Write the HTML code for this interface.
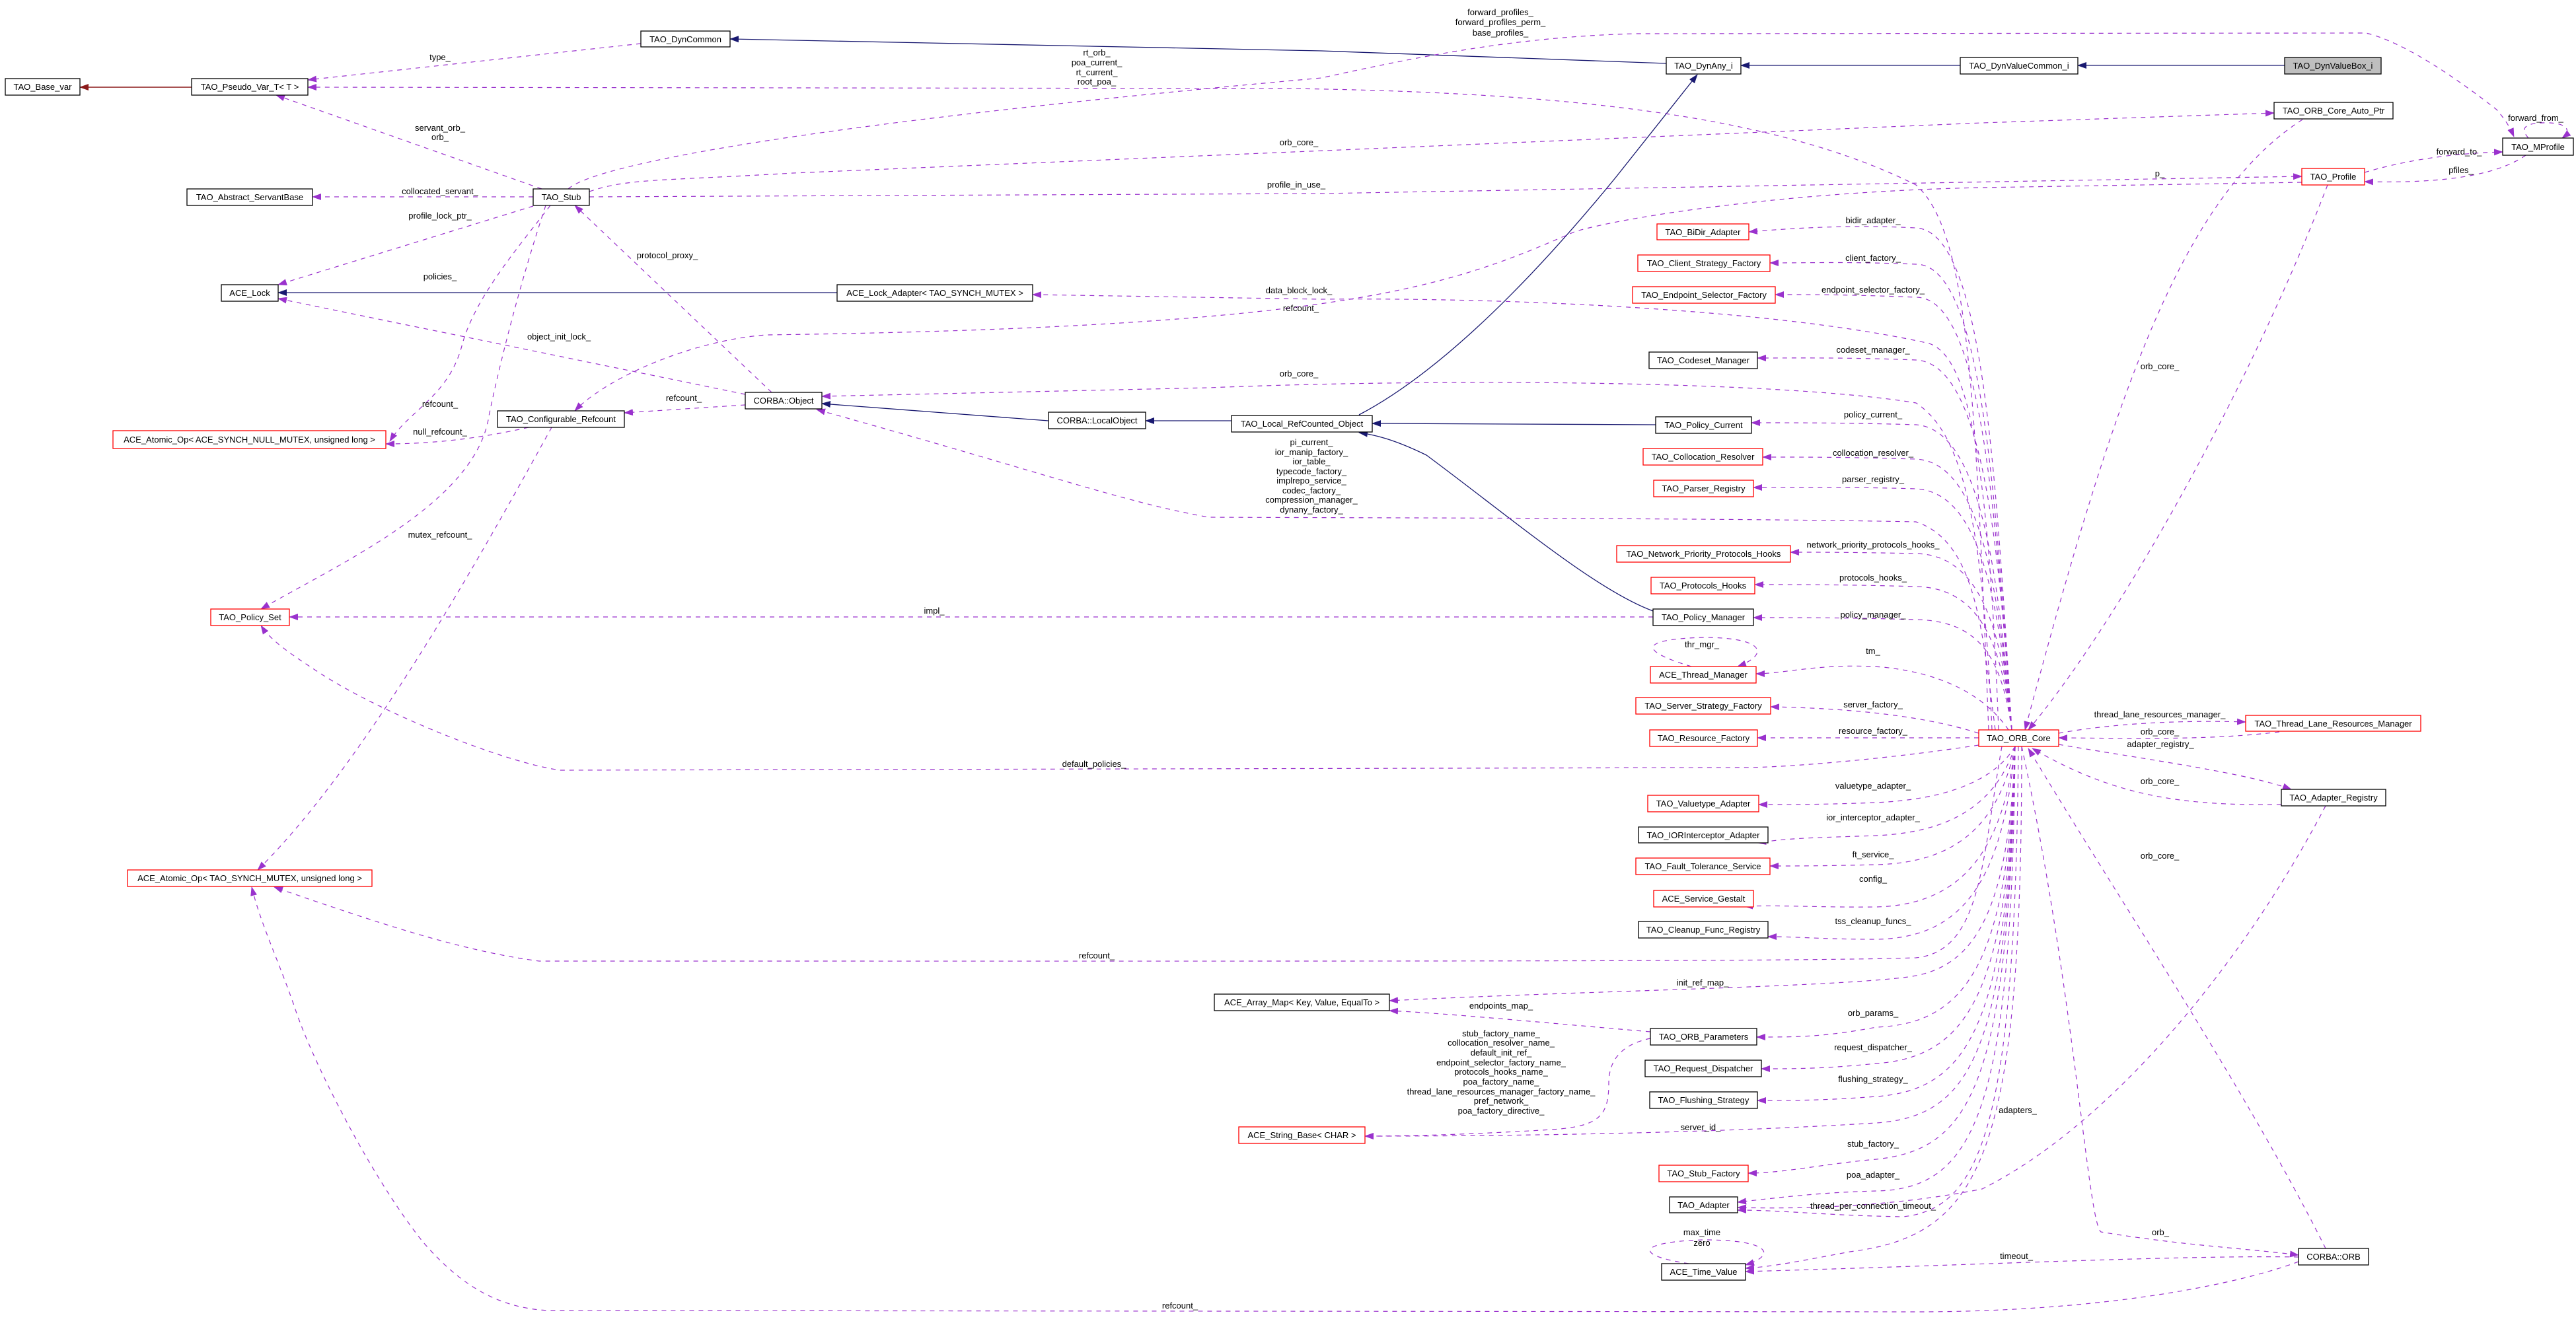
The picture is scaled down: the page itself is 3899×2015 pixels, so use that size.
<!DOCTYPE html>
<html><head><meta charset="utf-8"><style>
html,body{margin:0;padding:0;background:#fff;}
svg{display:block;}
text{font-family:"Liberation Sans",Arial,sans-serif;font-size:13px;fill:#000;}
.n{fill:#fff;stroke:#000;stroke-width:1.3;}
.r{fill:#fff;stroke:#ff0000;stroke-width:1.3;}
.d{fill:none;stroke:#9a32cd;stroke-width:1.2;stroke-dasharray:7,7;}
.s{fill:none;stroke:#191970;stroke-width:1.3;}
.f{fill:none;stroke:#8b1a1a;stroke-width:1.5;}
</style></head><body>
<svg width="3899" height="2015" viewBox="0 0 3899 2015" xmlns="http://www.w3.org/2000/svg">
<defs>
<marker id="ap" markerWidth="14" markerHeight="10" refX="13" refY="5" orient="auto" markerUnits="userSpaceOnUse"><path d="M0,0 L14,5 L0,10 z" fill="#9a32cd"/></marker>
<marker id="an" markerWidth="14" markerHeight="10" refX="13" refY="5" orient="auto" markerUnits="userSpaceOnUse"><path d="M0,0 L14,5 L0,10 z" fill="#191970"/></marker>
<marker id="af" markerWidth="14" markerHeight="10" refX="13" refY="5" orient="auto" markerUnits="userSpaceOnUse"><path d="M0,0 L14,5 L0,10 z" fill="#8b1a1a"/></marker>
</defs>

<!-- solid edges -->
<path class="f" d="M290,132 L121,132" marker-end="url(#af)"/>
<path class="s" d="M1267,443 L421,443" marker-end="url(#an)"/>
<path class="s" d="M2522,96 L2000,77 L1105,59" marker-end="url(#an)"/>
<path class="s" d="M2967,99 L2635,99" marker-end="url(#an)"/>
<path class="s" d="M3458,99 L3145,99" marker-end="url(#an)"/>
<path class="s" d="M2057,628 C2160,574 2290,459 2446,268 C2500,200 2540,150 2569,113" marker-end="url(#an)"/>
<path class="s" d="M1587,637 L1244,611" marker-end="url(#an)"/>
<path class="s" d="M1864,637 L1734,637" marker-end="url(#an)"/>
<path class="s" d="M2506,643 L2077,641" marker-end="url(#an)"/>
<path class="s" d="M2502,925 C2415,893 2287,784 2159,689 C2110,665 2080,658 2057,655" marker-end="url(#an)"/>

<!-- dashed edges left part -->
<path class="d" d="M970,66 L466,121" marker-end="url(#ap)"/>
<path class="d" d="M3010,1105 C2990,600 2980,350 2900,280 C2700,180 2400,140 1950,134 L466,132" marker-end="url(#ap)"/>
<path class="d" d="M820,286 L418,144" marker-end="url(#ap)"/>
<path class="d" d="M807,298 L473,298" marker-end="url(#ap)"/>
<path class="d" d="M807,312 L421,431" marker-end="url(#ap)"/>
<path class="d" d="M1128,597 L421,452" marker-end="url(#ap)"/>
<path class="d" d="M1168,594 L870,311" marker-end="url(#ap)"/>
<path class="d" d="M833,311 C780,380 720,450 700,520 C680,600 620,620 590,668" marker-end="url(#ap)"/>
<path class="d" d="M826,311 C780,450 750,580 740,630 C720,760 520,850 395,922" marker-end="url(#ap)"/>
<path class="d" d="M800,647 C720,665 650,672 584,672" marker-end="url(#ap)"/>
<path class="d" d="M835,647 C750,800 560,1150 390,1317" marker-end="url(#ap)"/>
<path class="d" d="M1128,613 L945,625" marker-end="url(#ap)"/>
<path class="d" d="M3484,276 L3000,284 C2700,290 2450,330 2383,351 C2200,430 2050,495 1160,507 C1050,515 920,570 870,622" marker-end="url(#ap)"/>
<path class="d" d="M892,290 C950,270 1000,274 1200,262 L3000,186 L3442,171" marker-end="url(#ap)"/>
<path class="d" d="M892,298 L2000,293 L3484,267" marker-end="url(#ap)"/>
<path class="d" d="M860,286 C900,250 1200,190 2000,118 C2150,85 2300,55 2478,51 L3581,50 C3640,64 3720,120 3779,166 C3795,185 3800,195 3805,207" marker-end="url(#ap)"/>
<path class="d" d="M3020,1105 C3000,950 2990,820 2900,790 C2600,784 2000,784 1829,783 C1700,760 1574,714 1236,620" marker-end="url(#ap)"/>
<path class="d" d="M3015,1105 C3000,750 2960,650 2900,610 C2700,577 2200,572 1829,587 L1244,600" marker-end="url(#ap)"/>
<path class="d" d="M3025,1105 C3010,700 2980,540 2920,520 C2700,470 2300,450 2000,453 L1563,446" marker-end="url(#ap)"/>
<path class="d" d="M2995,1128 C2850,1150 2700,1162 2638,1162 L848,1166 C765,1155 574,1079 478,1015 C440,990 410,970 395,947" marker-end="url(#ap)"/>
<path class="d" d="M3030,1130 C3000,1300 3000,1440 2900,1450 C2700,1456 2100,1455 816,1455 C700,1440 574,1398 415,1343" marker-end="url(#ap)"/>
<path class="d" d="M3479,1910 C3400,1940 3200,1986 2899,1986 L829,1984 C760,1980 702,1952 640,1880 C560,1780 470,1600 446,1525 C420,1450 395,1400 381,1343" marker-end="url(#ap)"/>

<!-- ORB_Core fan -->
<g>
<path class="d" d="M3045,1105 C3020,700 3000,350 2900,345 C2800,340 2720,345 2647,351" marker-end="url(#ap)"/>
<path class="d" d="M3045,1105 C3020,750 3000,400 2900,400 C2800,396 2740,398 2679,398" marker-end="url(#ap)"/>
<path class="d" d="M3045,1105 C3020,780 3000,450 2900,450 C2800,446 2750,446 2687,446" marker-end="url(#ap)"/>
<path class="d" d="M3045,1105 C3025,820 3000,550 2900,545 C2800,541 2720,542 2660,542" marker-end="url(#ap)"/>
<path class="d" d="M3045,1105 C3025,880 3000,650 2900,643 C2800,640 2720,640 2651,640" marker-end="url(#ap)"/>
<path class="d" d="M3045,1105 C3025,900 3000,700 2900,695 C2800,692 2740,692 2668,692" marker-end="url(#ap)"/>
<path class="d" d="M3045,1105 C3025,920 3000,745 2900,740 C2800,737 2720,738 2654,738" marker-end="url(#ap)"/>
<path class="d" d="M3045,1105 C3030,960 3000,840 2900,838 C2800,836 2760,836 2710,836" marker-end="url(#ap)"/>
<path class="d" d="M3045,1105 C3030,980 3000,890 2900,888 C2800,885 2720,885 2656,885" marker-end="url(#ap)"/>
<path class="d" d="M3045,1105 C3030,1000 3000,940 2900,938 C2800,935 2720,935 2654,935" marker-end="url(#ap)"/>
<path class="d" d="M3040,1105 C3010,1060 2950,1020 2850,1010 C2760,1003 2700,1020 2658,1020" marker-end="url(#ap)"/>
<path class="d" d="M2995,1110 C2900,1080 2780,1072 2680,1070" marker-end="url(#ap)"/>
<path class="d" d="M2995,1117 L2660,1117" marker-end="url(#ap)"/>
<path class="d" d="M3050,1130 C3020,1180 2950,1210 2840,1215 C2760,1218 2720,1218 2662,1218" marker-end="url(#ap)"/>
<path class="d" d="M3050,1130 C3020,1220 2950,1260 2840,1265 C2760,1268 2710,1268 2660,1276" marker-end="url(#ap)"/>
<path class="d" d="M3050,1130 C3025,1250 2960,1306 2840,1309 C2760,1311 2720,1311 2679,1311" marker-end="url(#ap)"/>
<path class="d" d="M3050,1130 C3030,1300 2960,1370 2840,1373 C2760,1374 2700,1370 2640,1372" marker-end="url(#ap)"/>
<path class="d" d="M3050,1130 C3030,1350 2960,1420 2840,1422 C2760,1422 2720,1418 2676,1418" marker-end="url(#ap)"/>
<path class="d" d="M3050,1130 C3040,1400 2980,1470 2880,1480 C2750,1495 2400,1500 2103,1515" marker-end="url(#ap)"/>
<path class="d" d="M3050,1130 C3040,1450 2980,1550 2840,1555 C2760,1570 2720,1570 2659,1570" marker-end="url(#ap)"/>
<path class="d" d="M3050,1130 C3040,1500 2980,1600 2840,1610 C2760,1618 2720,1618 2666,1618" marker-end="url(#ap)"/>
<path class="d" d="M3050,1130 C3040,1550 2980,1650 2840,1660 C2760,1666 2720,1666 2660,1666" marker-end="url(#ap)"/>
<path class="d" d="M3050,1130 C3040,1600 2980,1690 2840,1700 C2600,1715 2300,1720 2066,1720" marker-end="url(#ap)"/>
<path class="d" d="M3050,1130 C3040,1650 2980,1740 2840,1755 C2760,1762 2700,1776 2646,1776" marker-end="url(#ap)"/>
<path class="d" d="M3050,1130 C3045,1680 2990,1800 2840,1803 C2760,1805 2700,1812 2630,1820" marker-end="url(#ap)"/>
<path class="d" d="M3055,1130 C3050,1700 3000,1830 2880,1842 C2760,1840 2700,1832 2630,1832" marker-end="url(#ap)"/>
<path class="d" d="M3060,1130 C3060,1750 3000,1870 2800,1895 C2720,1910 2680,1918 2642,1920" marker-end="url(#ap)"/>
<path class="d" d="M3479,1903 C3300,1900 3000,1915 2642,1925" marker-end="url(#ap)"/>
<path class="d" d="M3060,1130 C3140,1500 3160,1850 3180,1865 C3300,1885 3400,1890 3479,1900" marker-end="url(#ap)"/>
<path class="d" d="M3520,1890 C3400,1650 3200,1350 3070,1133" marker-end="url(#ap)"/>
<path class="d" d="M3520,1220 C3400,1450 3200,1700 3000,1800 C2850,1830 2700,1830 2630,1828" marker-end="url(#ap)"/>
<path class="d" d="M3116,1110 C3200,1095 3300,1090 3399,1093" marker-end="url(#ap)"/>
<path class="d" d="M3450,1108 C3350,1120 3250,1118 3116,1117" marker-end="url(#ap)"/>
<path class="d" d="M3116,1127 C3250,1150 3400,1170 3468,1195" marker-end="url(#ap)"/>
<path class="d" d="M3453,1218 C3300,1220 3200,1205 3076,1133" marker-end="url(#ap)"/>
<path class="d" d="M3485,181 C3300,300 3200,600 3065,1105" marker-end="url(#ap)"/>
<path class="d" d="M3523,280 C3400,600 3200,950 3070,1105" marker-end="url(#ap)"/>
</g>

<!-- self loops etc -->
<path class="d" d="M2560,1009 C2480,985 2480,968 2578,965 C2670,965 2680,990 2630,1009" marker-end="url(#ap)"/>
<path class="d" d="M2556,1913 C2470,1900 2480,1880 2578,1877 C2680,1877 2690,1900 2642,1915" marker-end="url(#ap)"/>
<path class="d" d="M3827,209 C3810,190 3830,185 3860,186 C3890,188 3890,200 3878,209" marker-end="url(#ap)"/>
<path class="d" d="M3579,261 C3650,240 3720,232 3788,230" marker-end="url(#ap)"/>
<path class="d" d="M3823,235 C3780,265 3700,278 3579,275" marker-end="url(#ap)"/>
<path class="d" d="M2498,1562 C2300,1545 2200,1535 2103,1530" marker-end="url(#ap)"/>
<path class="d" d="M2498,1572 C2460,1580 2435,1600 2435,1640 C2435,1690 2420,1705 2350,1710 C2250,1716 2150,1720 2066,1720" marker-end="url(#ap)"/>
<path class="d" d="M2502,934 L438,934" marker-end="url(#ap)"/>

<!-- nodes -->
<g>
<rect class="n" x="8" y="119" width="113" height="25"/><text x="64.5" y="136" text-anchor="middle">TAO_Base_var</text>
<rect class="n" x="290" y="119" width="176" height="25"/><text x="378" y="136" text-anchor="middle">TAO_Pseudo_Var_T&lt; T &gt;</text>
<rect class="n" x="283" y="286" width="190" height="25"/><text x="378" y="303" text-anchor="middle">TAO_Abstract_ServantBase</text>
<rect class="n" x="807" y="286" width="85" height="25"/><text x="849.5" y="303" text-anchor="middle">TAO_Stub</text>
<rect class="n" x="335" y="431" width="86" height="25"/><text x="378" y="448" text-anchor="middle">ACE_Lock</text>
<rect class="r" x="171" y="652" width="413" height="27"/><text x="377.5" y="670" text-anchor="middle">ACE_Atomic_Op&lt; ACE_SYNCH_NULL_MUTEX, unsigned long &gt;</text>
<rect class="n" x="753" y="622" width="192" height="25"/><text x="849" y="639" text-anchor="middle">TAO_Configurable_Refcount</text>
<rect class="r" x="319" y="922" width="119" height="25"/><text x="378.5" y="939" text-anchor="middle">TAO_Policy_Set</text>
<rect class="r" x="193" y="1317" width="370" height="25"/><text x="378" y="1334" text-anchor="middle">ACE_Atomic_Op&lt; TAO_SYNCH_MUTEX, unsigned long &gt;</text>
<rect class="n" x="970" y="47" width="135" height="24"/><text x="1037.5" y="64" text-anchor="middle">TAO_DynCommon</text>
<rect class="n" x="1267" y="431" width="296" height="25"/><text x="1415" y="448" text-anchor="middle">ACE_Lock_Adapter&lt; TAO_SYNCH_MUTEX &gt;</text>
<rect class="n" x="1128" y="594" width="116" height="25"/><text x="1186" y="611" text-anchor="middle">CORBA::Object</text>
<rect class="n" x="1587" y="624" width="147" height="25"/><text x="1660.5" y="641" text-anchor="middle">CORBA::LocalObject</text>
<rect class="n" x="1864" y="629" width="213" height="25"/><text x="1970.5" y="646" text-anchor="middle">TAO_Local_RefCounted_Object</text>
<rect class="n" x="1838" y="1505" width="265" height="25"/><text x="1970.5" y="1522" text-anchor="middle">ACE_Array_Map&lt; Key, Value, EqualTo &gt;</text>
<rect class="r" x="1875" y="1706" width="191" height="25"/><text x="1970.5" y="1723" text-anchor="middle">ACE_String_Base&lt; CHAR &gt;</text>
<rect class="n" x="2522" y="87" width="113" height="25"/><text x="2578.5" y="104" text-anchor="middle">TAO_DynAny_i</text>
<rect class="r" x="2508" y="339" width="139" height="24"/><text x="2577.5" y="356" text-anchor="middle">TAO_BiDir_Adapter</text>
<rect class="r" x="2479" y="386" width="200" height="25"/><text x="2579" y="403" text-anchor="middle">TAO_Client_Strategy_Factory</text>
<rect class="r" x="2471" y="434" width="216" height="25"/><text x="2579" y="451" text-anchor="middle">TAO_Endpoint_Selector_Factory</text>
<rect class="n" x="2496" y="533" width="164" height="25"/><text x="2578" y="550" text-anchor="middle">TAO_Codeset_Manager</text>
<rect class="n" x="2506" y="631" width="145" height="25"/><text x="2578.5" y="648" text-anchor="middle">TAO_Policy_Current</text>
<rect class="r" x="2487" y="679" width="181" height="25"/><text x="2577.5" y="696" text-anchor="middle">TAO_Collocation_Resolver</text>
<rect class="r" x="2503" y="727" width="151" height="25"/><text x="2578.5" y="744" text-anchor="middle">TAO_Parser_Registry</text>
<rect class="r" x="2447" y="826" width="263" height="25"/><text x="2578.5" y="843" text-anchor="middle">TAO_Network_Priority_Protocols_Hooks</text>
<rect class="r" x="2499" y="874" width="157" height="25"/><text x="2577.5" y="891" text-anchor="middle">TAO_Protocols_Hooks</text>
<rect class="n" x="2502" y="922" width="152" height="25"/><text x="2578" y="939" text-anchor="middle">TAO_Policy_Manager</text>
<rect class="r" x="2498" y="1009" width="160" height="25"/><text x="2578" y="1026" text-anchor="middle">ACE_Thread_Manager</text>
<rect class="r" x="2476" y="1056" width="204" height="25"/><text x="2578" y="1073" text-anchor="middle">TAO_Server_Strategy_Factory</text>
<rect class="r" x="2497" y="1105" width="163" height="25"/><text x="2578.5" y="1122" text-anchor="middle">TAO_Resource_Factory</text>
<rect class="r" x="2494" y="1204" width="168" height="25"/><text x="2578" y="1221" text-anchor="middle">TAO_Valuetype_Adapter</text>
<rect class="n" x="2480" y="1252" width="196" height="24"/><text x="2578" y="1269" text-anchor="middle">TAO_IORInterceptor_Adapter</text>
<rect class="r" x="2476" y="1299" width="203" height="25"/><text x="2577.5" y="1316" text-anchor="middle">TAO_Fault_Tolerance_Service</text>
<rect class="r" x="2503" y="1348" width="151" height="25"/><text x="2578.5" y="1365" text-anchor="middle">ACE_Service_Gestalt</text>
<rect class="n" x="2480" y="1395" width="196" height="25"/><text x="2578" y="1412" text-anchor="middle">TAO_Cleanup_Func_Registry</text>
<rect class="n" x="2498" y="1557" width="161" height="25"/><text x="2578.5" y="1574" text-anchor="middle">TAO_ORB_Parameters</text>
<rect class="n" x="2490" y="1605" width="176" height="25"/><text x="2578" y="1622" text-anchor="middle">TAO_Request_Dispatcher</text>
<rect class="n" x="2497" y="1653" width="163" height="25"/><text x="2578.5" y="1670" text-anchor="middle">TAO_Flushing_Strategy</text>
<rect class="r" x="2511" y="1764" width="135" height="25"/><text x="2578.5" y="1781" text-anchor="middle">TAO_Stub_Factory</text>
<rect class="n" x="2527" y="1812" width="103" height="24"/><text x="2578.5" y="1829" text-anchor="middle">TAO_Adapter</text>
<rect class="n" x="2515" y="1913" width="127" height="25"/><text x="2578.5" y="1930" text-anchor="middle">ACE_Time_Value</text>
<rect class="r" x="2995" y="1105" width="121" height="25"/><text x="3055.5" y="1122" text-anchor="middle">TAO_ORB_Core</text>
<rect class="r" x="3399" y="1083" width="265" height="24"/><text x="3531.5" y="1100" text-anchor="middle">TAO_Thread_Lane_Resources_Manager</text>
<rect class="n" x="3453" y="1195" width="158" height="25"/><text x="3532" y="1212" text-anchor="middle">TAO_Adapter_Registry</text>
<rect class="n" x="3479" y="1890" width="106" height="25"/><text x="3532" y="1907" text-anchor="middle">CORBA::ORB</text>
<rect class="n" x="2967" y="87" width="178" height="25"/><text x="3056" y="104" text-anchor="middle">TAO_DynValueCommon_i</text>
<rect x="3458" y="87" width="146" height="25" fill="#bfbfbf" stroke="#000" stroke-width="1.3"/><text x="3531" y="104" text-anchor="middle">TAO_DynValueBox_i</text>
<rect class="n" x="3442" y="155" width="180" height="25"/><text x="3532" y="172" text-anchor="middle">TAO_ORB_Core_Auto_Ptr</text>
<rect class="n" x="3788" y="209" width="107" height="26"/><text x="3841.5" y="227" text-anchor="middle">TAO_MProfile</text>
<rect class="r" x="3484" y="255" width="95" height="25"/><text x="3531.5" y="272" text-anchor="middle">TAO_Profile</text>
</g>

<!-- edge labels -->
<g text-anchor="middle">
<text x="666" y="91">type_</text>
<text x="666" y="198">servant_orb_</text><text x="666" y="212">orb_</text>
<text x="666" y="294">collocated_servant_</text>
<text x="666" y="331">profile_lock_ptr_</text>
<text x="666" y="423">policies_</text>
<text x="846" y="514">object_init_lock_</text>
<text x="1010" y="391">protocol_proxy_</text>
<text x="666" y="616">refcount_</text>
<text x="666" y="658">null_refcount_</text>
<text x="666" y="814">mutex_refcount_</text>
<text x="1035" y="607">refcount_</text>
<text x="1660" y="84">rt_orb_</text><text x="1660" y="99">poa_current_</text><text x="1660" y="114">rt_current_</text><text x="1660" y="128">root_poa_</text>
<text x="2271" y="23">forward_profiles_</text><text x="2271" y="38">forward_profiles_perm_</text><text x="2271" y="54">base_profiles_</text>
<text x="1966" y="220">orb_core_</text>
<text x="1962" y="284">profile_in_use_</text>
<text x="1966" y="444">data_block_lock_</text>
<text x="1969" y="471">refcount_</text>
<text x="1966" y="570">orb_core_</text>
<text x="1985" y="674">pi_current_</text><text x="1985" y="689">ior_manip_factory_</text><text x="1985" y="703">ior_table_</text><text x="1985" y="718">typecode_factory_</text><text x="1985" y="732">implrepo_service_</text><text x="1985" y="747">codec_factory_</text><text x="1985" y="761">compression_manager_</text><text x="1985" y="776">dynany_factory_</text>
<text x="1414" y="929">impl_</text>
<text x="1656" y="1161">default_policies_</text>
<text x="1660" y="1451">refcount_</text>
<text x="1786" y="1981">refcount_</text>
<text x="3269" y="267">p_</text>
<text x="3269" y="559">orb_core_</text>
<text x="3838" y="183">forward_from_</text>
<text x="3722" y="234">forward_to_</text>
<text x="3725" y="262">pfiles_</text>
<text x="2835" y="338">bidir_adapter_</text>
<text x="2835" y="395">client_factory_</text>
<text x="2835" y="443">endpoint_selector_factory_</text>
<text x="2835" y="534">codeset_manager_</text>
<text x="2835" y="632">policy_current_</text>
<text x="2835" y="690">collocation_resolver_</text>
<text x="2835" y="730">parser_registry_</text>
<text x="2835" y="829">network_priority_protocols_hooks_</text>
<text x="2835" y="879">protocols_hooks_</text>
<text x="2835" y="935">policy_manager_</text>
<text x="2835" y="990">tm_</text>
<text x="2576" y="980">thr_mgr_</text>
<text x="2835" y="1071">server_factory_</text>
<text x="2835" y="1111">resource_factory_</text>
<text x="2835" y="1194">valuetype_adapter_</text>
<text x="2835" y="1242">ior_interceptor_adapter_</text>
<text x="2835" y="1298">ft_service_</text>
<text x="2835" y="1335">config_</text>
<text x="2835" y="1399">tss_cleanup_funcs_</text>
<text x="2577" y="1492">init_ref_map_</text>
<text x="2272" y="1527">endpoints_map_</text>
<text x="2272" y="1569">stub_factory_name_</text><text x="2272" y="1583">collocation_resolver_name_</text><text x="2272" y="1598">default_init_ref_</text><text x="2272" y="1613">endpoint_selector_factory_name_</text><text x="2272" y="1627">protocols_hooks_name_</text><text x="2272" y="1642">poa_factory_name_</text><text x="2272" y="1657">thread_lane_resources_manager_factory_name_</text><text x="2272" y="1671">pref_network_</text><text x="2272" y="1686">poa_factory_directive_</text>
<text x="2835" y="1538">orb_params_</text>
<text x="2835" y="1590">request_dispatcher_</text>
<text x="2835" y="1638">flushing_strategy_</text>
<text x="2574" y="1711">server_id_</text>
<text x="2835" y="1736">stub_factory_</text>
<text x="2835" y="1783">poa_adapter_</text>
<text x="2835" y="1830">thread_per_connection_timeout_</text>
<text x="2576" y="1870">max_time</text><text x="2576" y="1886">zero</text>
<text x="3269" y="1086">thread_lane_resources_manager_</text>
<text x="3269" y="1112">orb_core_</text>
<text x="3270" y="1131">adapter_registry_</text>
<text x="3269" y="1187">orb_core_</text>
<text x="3269" y="1300">orb_core_</text>
<text x="3054" y="1685">adapters_</text>
<text x="3270" y="1870">orb_</text>
<text x="3052" y="1906">timeout_</text>
</g>
</svg>
</body></html>
